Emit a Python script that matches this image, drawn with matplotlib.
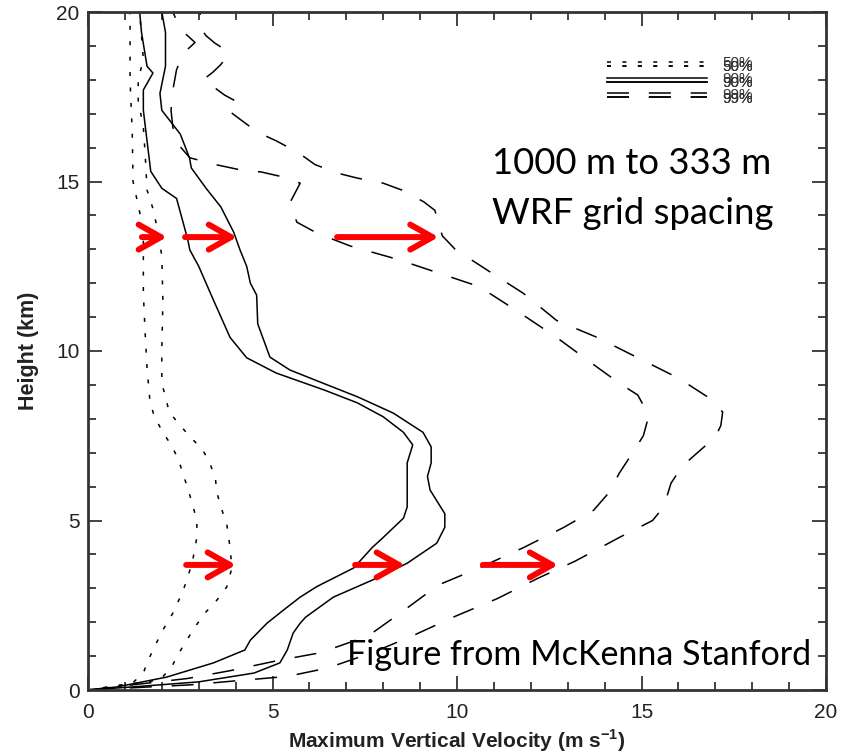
import matplotlib
matplotlib.use('Agg')
import matplotlib.pyplot as plt
from matplotlib.ticker import MultipleLocator
from matplotlib.lines import Line2D

plt.rcParams['font.family'] = ['Liberation Sans', 'DejaVu Sans']
plt.rcParams['mathtext.fontset'] = 'custom'
plt.rcParams['mathtext.rm'] = 'Liberation Sans'
plt.rcParams['mathtext.bf'] = 'Liberation Sans:bold'

# ---------------- data (velocity m/s vs height km) ----------------
# 50th percentile, 1000 m run (dotted, left)
h_p50_1000 = [0.0, 0.2, 0.5, 0.8, 1.27, 1.77, 2.27, 2.86, 3.3, 3.9, 4.5, 5.0, 5.6, 6.3, 6.8,
              7.2, 7.6, 8.06, 8.5, 9.5, 10.5, 11.7, 12.5, 13.5, 14.1, 15.0, 16.4, 18.0, 19.8, 20.0]
v_p50_1000 = [0.0, 1.2, 1.5, 1.6, 1.8, 2.03, 2.3, 2.55, 2.7, 2.85, 2.95, 2.95, 2.8, 2.6, 2.45,
              2.27, 2.03, 1.8, 1.68, 1.6, 1.55, 1.5, 1.5, 1.5, 1.4, 1.22, 1.2, 1.14, 1.14, 1.14]

# 50th percentile, 333 m run (dotted, right)
h_p50_333 = [0.0, 0.3, 0.68, 0.97, 1.39, 1.86, 2.27, 2.66, 3.04, 3.6, 4.2, 4.9, 5.4, 5.8, 6.25,
             6.7, 7.1, 7.43, 7.8, 8.2, 8.65, 9.05, 10.0, 11.5, 12.8, 13.5, 14.2, 14.75, 15.8, 16.6,
             17.4, 18.0, 18.6, 19.3, 20.0]
v_p50_333 = [0.0, 1.95, 2.27, 2.4, 2.63, 2.9, 3.17, 3.5, 3.76, 3.9, 3.85, 3.76, 3.6, 3.5, 3.45,
             3.3, 3.1, 2.8, 2.5, 2.2, 2.1, 2.0, 2.0, 2.03, 2.0, 1.9, 1.76, 1.6, 1.55, 1.5,
             1.36, 1.36, 1.5, 1.45, 1.4]

# 90th percentile, 1000 m run (solid, left)
h_p90_1000 = [0.0, 0.09, 0.38, 0.8, 1.18, 1.47, 1.97, 2.36, 2.74, 3.05, 3.6, 4.2, 4.5, 5.07, 5.4,
              6.0, 6.7, 7.23, 7.6, 8.06, 8.47, 8.85, 9.35, 9.8, 10.4, 11.5, 12.5, 12.98, 13.3, 13.9,
              14.5, 14.8, 15.3, 16.2, 17.1, 17.7, 18.2, 18.4, 19.4, 20.0]
v_p90_1000 = [0.0, 0.78, 2.13, 3.4, 4.25, 4.4, 4.85, 5.3, 5.75, 6.2, 7.2, 7.7, 8.0, 8.55, 8.65,
              8.65, 8.65, 8.8, 8.55, 8.0, 7.3, 6.4, 5.1, 4.3, 3.85, 3.4, 3.0, 2.76, 2.7, 2.55,
              2.4, 2.0, 1.7, 1.6, 1.5, 1.5, 1.76, 1.6, 1.45, 1.4]

# 90th percentile, 333 m run (solid, right)
h_p90_333 = [0.0, 0.09, 0.24, 0.5, 0.8, 1.18, 1.68, 1.97, 2.15, 2.74, 3.24, 3.74, 4.33, 4.8, 5.2,
             5.9, 6.3, 6.7, 7.17, 7.6, 8.17, 8.65, 9.05, 9.44, 9.82, 10.8, 11.65, 12.0, 12.5, 12.98,
             13.5, 14.25, 14.8, 15.4, 15.7, 16.4, 17.1, 17.6, 18.4, 19.4, 20.0]
v_p90_333 = [0.0, 1.2, 3.0, 4.5, 5.2, 5.4, 5.56, 5.75, 5.9, 6.65, 7.7, 8.65, 9.45, 9.67, 9.67,
             9.27, 9.2, 9.3, 9.3, 9.08, 8.27, 7.3, 6.37, 5.47, 4.93, 4.6, 4.57, 4.4, 4.3, 4.12,
             3.95, 3.6, 3.2, 2.8, 2.75, 2.5, 2.0, 1.95, 2.1, 2.1, 2.0]

# 99th percentile, 1000 m run (dashed, inner)
h_p99_1000 = [0.0, 0.34, 0.58, 0.87, 1.1, 1.6, 2.3, 3.1, 3.6, 4.2, 4.8, 5.3, 5.8, 6.4, 6.9,
              7.5, 8.1, 8.7, 9.05, 9.6, 10.4, 11.2, 11.9, 12.3, 12.7, 13.1, 13.48, 13.8, 14.37, 14.95,
              15.13, 15.28, 15.35, 15.5, 15.7, 16.1, 16.6, 17.1, 17.7, 18.3, 18.8, 19.1, 19.5, 20.0]
v_p99_1000 = [0.0, 2.7, 3.9, 5.15, 6.3, 7.6, 8.5, 9.5, 10.6, 11.8, 12.9, 13.7, 14.1, 14.4, 14.7,
              15.05, 15.2, 14.9, 14.4, 13.7, 12.7, 11.6, 10.6, 9.5, 8.4, 7.1, 6.2, 5.66, 5.47, 5.75,
              5.3, 4.7, 4.1, 3.45, 2.76, 2.44, 2.3, 2.25, 2.3, 2.4, 2.6, 2.9, 2.5, 2.3]

# 99th percentile, 333 m run (dashed, outer)
h_p99_333 = [0.0, 0.15, 0.27, 0.4, 0.65, 1.1, 1.6, 2.15, 2.7, 3.3, 3.8, 4.5, 5.0, 5.4, 6.1,
             6.6, 7.08, 7.46, 7.8, 8.2, 8.64, 9.2, 9.8, 10.4, 10.9, 11.7, 12.4, 13.0, 13.4, 13.8,
             14.15, 14.4, 14.75, 14.95, 15.1, 15.25, 15.5, 15.85, 16.2, 16.45, 16.9, 17.1, 17.35, 17.55, 17.8,
             18.0, 18.23, 18.45, 18.73, 18.9, 19.08, 19.3, 19.6, 20.0]
v_p99_333 = [0.0, 2.75, 4.0, 5.4, 6.5, 7.7, 8.8, 9.9, 11.1, 12.2, 13.2, 14.4, 15.3, 15.6, 15.8,
             16.1, 16.6, 17.0, 17.15, 17.2, 16.8, 16.0, 14.9, 13.8, 12.7, 11.8, 10.8, 9.95, 9.6, 9.5,
             9.4, 9.1, 8.5, 8.0, 7.3, 6.75, 6.15, 5.7, 5.1, 4.6, 4.04, 3.8, 4.04, 3.7, 3.39,
             3.12, 3.39, 3.6, 3.79, 3.7, 3.44, 3.2, 3.0, 3.05]

percent_labels = ['50%', '90%', '99%']

# red arrows (height, start velocity, end velocity)
arrow_h = [13.36, 13.36, 13.36, 3.69, 3.69, 3.69]
arrow_v0 = [1.46, 2.63, 6.75, 2.66, 7.24, 10.7]
arrow_v1 = [2.14, 4.04, 9.5, 4.01, 8.59, 12.74]

title_lines = ['1000 m to 333 m', 'WRF grid spacing']
credit = 'Figure from McKenna Stanford'

# ---------------- figure ----------------
W, H = 854, 755
fig = plt.figure(figsize=(W / 100, H / 100), dpi=100)
ax = fig.add_axes([88 / W, 65 / H, 738 / W, 678 / H])

LW = 1.1
dotted = (0, (2.6, 7.5))
dashed = (0, (14.4, 13.0))
styles = [dotted, '-', dashed]

curves_1000 = [(v_p50_1000, h_p50_1000), (v_p90_1000, h_p90_1000), (v_p99_1000, h_p99_1000)]
curves_333 = [(v_p50_333, h_p50_333), (v_p90_333, h_p90_333), (v_p99_333, h_p99_333)]
for (v, h), ls in zip(curves_1000, styles):
    ax.plot(v, h, color='black', lw=LW, linestyle=ls)
for (v, h), ls in zip(curves_333, styles):
    ax.plot(v, h, color='black', lw=LW, linestyle=ls)

for y, x0, x1 in zip(arrow_h, arrow_v0, arrow_v1):
    ax.annotate('', xy=(x1, y), xytext=(x0, y),
                arrowprops=dict(arrowstyle='->,head_length=0.8,head_width=0.45',
                                color='#ff0000', lw=4.3, shrinkA=0, shrinkB=0,
                                mutation_scale=20))

ax.set_xlim(0, 20)
ax.set_ylim(0, 20)
ax.xaxis.set_major_locator(MultipleLocator(5))
ax.xaxis.set_minor_locator(MultipleLocator(1))
ax.yaxis.set_major_locator(MultipleLocator(5))
ax.yaxis.set_minor_locator(MultipleLocator(1))
ax.tick_params(which='both', direction='in', top=True, right=True,
               labeltop=False, labelright=False, color='#222', width=1.2)
ax.tick_params(which='major', length=10)
ax.tick_params(which='minor', length=5.5)
ax.tick_params(axis='x', labelsize=15, pad=9, labelcolor='#222')
ax.tick_params(axis='y', labelsize=15, pad=6, labelcolor='#222')
for s in ax.spines.values():
    s.set_linewidth(2.0)
    s.set_color('#333')

ax.set_xlabel('Maximum Vertical Velocity (m s$^{\\mathbf{-1}}$)', fontsize=15,
              fontweight='bold', color='#222')
ax.set_ylabel('Height (km)', fontsize=15.5, fontweight='bold', color='#222')
ax.xaxis.set_label_coords(0.5, -0.055)
ax.yaxis.set_label_coords(-0.066, 0.5)

# legends (two overlaid, slightly offset)
for k, dy in enumerate([0.0, -0.006]):
    handles = [Line2D([], [], color='black', lw=LW, linestyle=ls) for ls in styles]
    leg = ax.legend(handles, percent_labels, loc='upper left',
                    bbox_to_anchor=((607 - 88) / 738, 0.935 + dy),
                    frameon=False, fontsize=11, handlelength=6.55, handletextpad=0.98,
                    labelspacing=0.12, borderpad=0, borderaxespad=0)
    for t in leg.get_texts():
        t.set_color('#333')
    ax.add_artist(leg)

ax.text((492 - 88) / 738, (690 - 163) / 678, title_lines[0], transform=ax.transAxes,
        fontsize=26.3, family=['Lato', 'DejaVu Sans'], ha='left', va='center')
ax.text((492 - 88) / 738, (690 - 213) / 678, title_lines[1], transform=ax.transAxes,
        fontsize=26.3, family=['Lato', 'DejaVu Sans'], ha='left', va='center')
ax.text((347 - 88) / 738, (690 - 655) / 678, credit, transform=ax.transAxes,
        fontsize=24.5, family=['Lato', 'DejaVu Sans'], ha='left', va='center')

fig.savefig('out.png', dpi=100)
